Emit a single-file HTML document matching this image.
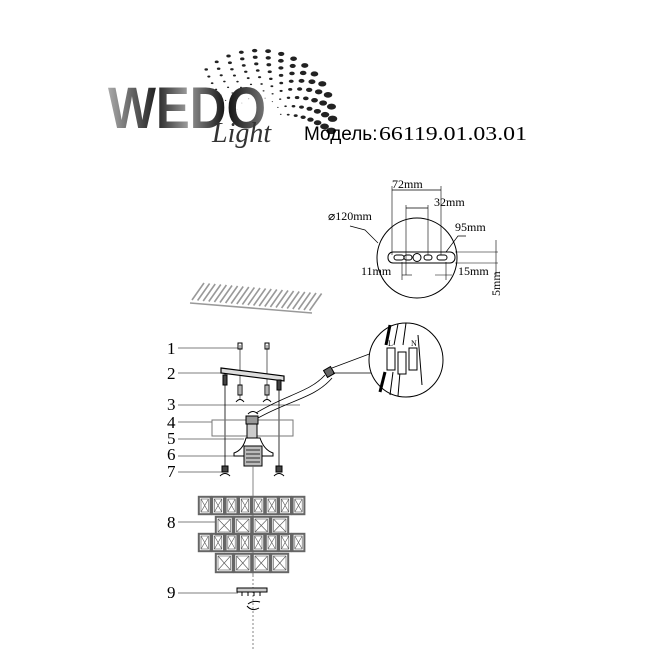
<!DOCTYPE html>
<html><head><meta charset="utf-8"><style>
html,body{margin:0;padding:0;background:#fff;width:650px;height:650px;overflow:hidden}
svg{display:block}
text{font-family:"Liberation Serif",serif}
</style></head><body>
<svg id="s" width="650" height="650" viewBox="0 0 650 650" xmlns="http://www.w3.org/2000/svg">
<defs>
<linearGradient id="g" x1="0" x2="1" y1="0" y2="0">
<stop offset="0" stop-color="#aaa"/><stop offset="0.3" stop-color="#222"/><stop offset="0.5" stop-color="#999"/><stop offset="0.75" stop-color="#111"/><stop offset="1" stop-color="#777"/>
</linearGradient>
</defs>
<g id="dots"></g>
<text x="108" y="128" font-weight="bold" font-size="58" fill="url(#g)" textLength="158" lengthAdjust="spacingAndGlyphs" style="font-family:'Liberation Sans',sans-serif">WEDO</text>
<text x="212" y="142" font-style="italic" font-size="28" fill="#333" style="font-family:'Liberation Serif',serif">Light</text>
<text x="304" y="140" font-size="19" fill="#000" style="font-family:'Liberation Sans',sans-serif">Модель:</text>
<text x="379" y="140" font-size="20" fill="#000" textLength="148" lengthAdjust="spacingAndGlyphs">66119.01.03.01</text>

<g stroke="#000" fill="none" stroke-width="1">
<circle cx="417" cy="258" r="40"/>
<rect x="388" y="252" width="67" height="11" rx="5"/>
<line x1="455" y1="252" x2="498" y2="252" stroke-width="0.6"/>
<line x1="455" y1="263" x2="498" y2="263" stroke-width="0.6"/>
<line x1="496" y1="240" x2="496" y2="275" stroke-width="0.6"/>
<rect x="394" y="255" width="10" height="5" rx="2.5"/>
<rect x="404" y="255" width="8" height="5" rx="2.5"/>
<circle cx="417" cy="257.5" r="4"/>
<rect x="424" y="255" width="8" height="5" rx="2.5"/>
<rect x="437" y="255" width="10" height="5" rx="2.5"/>
<line x1="392" y1="190" x2="441" y2="190" stroke-width="0.7"/>
<line x1="392" y1="186" x2="392" y2="255" stroke-width="0.6"/>
<line x1="441" y1="186" x2="441" y2="255" stroke-width="0.6"/>
<line x1="406" y1="208" x2="428" y2="208" stroke-width="0.7"/>
<line x1="406" y1="205" x2="406" y2="275" stroke-width="0.6"/>
<line x1="428" y1="205" x2="428" y2="255" stroke-width="0.6"/>
<line x1="402" y1="275" x2="412" y2="275" stroke-width="0.6"/>
<line x1="435" y1="275" x2="452" y2="275" stroke-width="0.6"/>
<line x1="402" y1="262" x2="402" y2="280" stroke-width="0.6"/>
<line x1="446" y1="262" x2="446" y2="280" stroke-width="0.6"/>
<polyline points="350,226 365,230 378,243" stroke-width="0.7"/>
<polyline points="466,236 458,236 446,252" stroke-width="0.7"/>
</g>
<g font-size="12" fill="#000">
<text x="392" y="188">72mm</text>
<text x="434" y="206">32mm</text>
<text x="328" y="220">⌀120mm</text>
<text x="455" y="231">95mm</text>
<text x="361" y="275">11mm</text>
<text x="458" y="275">15mm</text>
<text transform="translate(500,296) rotate(-90)">5mm</text>
</g>

<g stroke="#999" stroke-width="1.6" id="slats"></g>

<g font-size="17" fill="#000">
<text x="167" y="354">1</text><text x="167" y="379">2</text><text x="167" y="410">3</text><text x="167" y="428">4</text><text x="167" y="444">5</text><text x="167" y="460">6</text><text x="167" y="477">7</text><text x="167" y="528">8</text><text x="167" y="598">9</text>
</g>
<g stroke="#555" stroke-width="0.7" fill="none">
<line x1="178" y1="348" x2="238" y2="348"/>
<line x1="178" y1="373" x2="222" y2="373"/>
<line x1="178" y1="405" x2="300" y2="405"/>
<line x1="178" y1="422" x2="212" y2="422"/>
<line x1="178" y1="439" x2="244" y2="439"/>
<line x1="178" y1="456" x2="245" y2="456"/>
<line x1="178" y1="472" x2="222" y2="472"/>
<line x1="178" y1="522" x2="215" y2="522"/>
<line x1="178" y1="593" x2="238" y2="593"/>
</g>
<g stroke="#000" fill="none" stroke-width="1">
<line x1="240" y1="345" x2="240" y2="400" stroke-width="0.6"/>
<line x1="267" y1="345" x2="267" y2="400" stroke-width="0.6"/>
<rect x="238" y="343" width="4" height="6"/><rect x="265" y="343" width="4" height="6"/>
<rect x="238" y="385" width="4" height="10"/><rect x="265" y="385" width="4" height="10"/>
<path d="M236 402 q4 -5 8 0 M263 402 q4 -5 8 0"/>
<polygon points="221,368 284,376 284,381 221,373" stroke-width="1.2" fill="#ddd"/>
<line x1="225" y1="373" x2="225" y2="472" stroke-width="0.8"/>
<line x1="279" y1="380" x2="279" y2="472" stroke-width="0.8"/>
<rect x="223" y="375" width="4" height="10" fill="#444"/><rect x="277" y="380" width="4" height="10" fill="#444"/>
<rect x="222" y="466" width="6" height="6" fill="#444"/><rect x="276" y="466" width="6" height="6" fill="#444"/>
<path d="M220 476 q5 -5 10 0 M274 476 q5 -5 10 0"/>
<rect x="212" y="420" width="81" height="16" stroke="#777"/>
<path d="M248 414 q5 -5 10 0"/>
<rect x="246" y="416" width="12" height="8" fill="#999"/>
<rect x="247" y="424" width="10" height="14" fill="#ccc"/>
<path d="M246 438 L260 438 Q264 450 273 453 L273 456 L234 456 L234 453 Q243 450 246 438 Z"/>
<rect x="244" y="446" width="18" height="20" fill="#bbb"/>
<path d="M246 450h14M246 454h14M246 458h14M246 462h14" stroke-width="0.8"/>
<line x1="253" y1="466" x2="253" y2="575" stroke="#666" stroke-width="0.8"/>
<line x1="253" y1="575" x2="253" y2="650" stroke="#666" stroke-width="0.8" stroke-dasharray="2,2"/>
<path d="M256 413 C285 395 310 392 325 375" stroke-width="0.8"/>
<path d="M258 418 C290 400 315 398 332 378" stroke-width="0.8"/>
<rect x="325" y="368" width="8" height="8" fill="#666" transform="rotate(-30 329 372)"/>
<path d="M333 373 L372 373 M332 368 L380 350" stroke-width="0.7"/>
<circle cx="406" cy="360" r="37" fill="#fff"/>
<line x1="390" y1="325" x2="386" y2="345" stroke-width="3"/>
<line x1="398" y1="324" x2="394" y2="345" stroke-width="1"/>
<line x1="406" y1="323" x2="403" y2="345" stroke-width="1"/>
<line x1="385" y1="372" x2="380" y2="392" stroke-width="3"/>
<line x1="393" y1="372" x2="390" y2="395" stroke-width="1"/>
<line x1="400" y1="372" x2="398" y2="396" stroke-width="1"/>
<line x1="418" y1="335" x2="422" y2="385" stroke-width="1"/>
<rect x="387" y="348" width="8" height="22" fill="#fff"/>
<rect x="398" y="352" width="8" height="22" fill="#fff"/>
<rect x="409" y="348" width="8" height="22" fill="#fff"/>
<text x="388" y="346" font-size="8" stroke="none" fill="#000">L</text>
<text x="411" y="346" font-size="8" stroke="none" fill="#000">N</text>
<rect x="237" y="588" width="30" height="4" fill="#ccc"/>
<path d="M242 592v4M248 592v4M254 592v4M260 592v4"/>
<path d="M248 604 q5 -4 12 -2 M247 606 q5 6 12 2"/>
</g>
<g id="cr" stroke="#555" fill="none" stroke-width="1"></g>
</svg>
<script>
var ns="http://www.w3.org/2000/svg",cr=document.getElementById('cr');
function el(t,a,p){var e=document.createElementNS(ns,t);for(var k in a)e.setAttribute(k,a[k]);p.appendChild(e);}
function row(x0,y0,n,w,h){for(var i=0;i<n;i++){var x=x0+i*w;el('rect',{x:x+0.8,y:y0+0.8,width:w-1.6,height:h-1.6,'stroke-width':2,stroke:'#666'},cr);el('rect',{x:x+3,y:y0+3,width:w-6,height:h-6,'stroke-width':0.6},cr);el('path',{d:'M'+(x+3)+' '+(y0+3)+'L'+(x+w-3)+' '+(y0+h-3)+'M'+(x+w-3)+' '+(y0+3)+'L'+(x+3)+' '+(y0+h-3),'stroke-width':0.6},cr);}}
row(198,496,8,13.4,19);row(215,516,4,18.5,19);row(198,533,8,13.4,19);row(215,553,4,18.5,20);
var sl=document.getElementById('slats');
for(var i=0;i<22;i++){var x=192+i*5.6,y=300+i*0.5;el('line',{x1:x,y1:y,x2:x+12,y2:y-17},sl);}
el('line',{x1:190,y1:303,x2:312,y2:313},sl);
var d=document.getElementById('dots');
for(var r=0;r<8;r++){var R=22+r*7,n=8+r,sz=0.4+r*0.28;for(var j=0;j<n;j++){var t=j/(n-1);var a=(-155+t*145+r*3)*Math.PI/180;var s=sz*(0.5+t*0.9);el('ellipse',{cx:258+R*Math.cos(a)*1.05,cy:118+R*Math.sin(a)*0.95,rx:s*1.5,ry:s,fill:'#222'},d);}}
</script>
</body></html>
